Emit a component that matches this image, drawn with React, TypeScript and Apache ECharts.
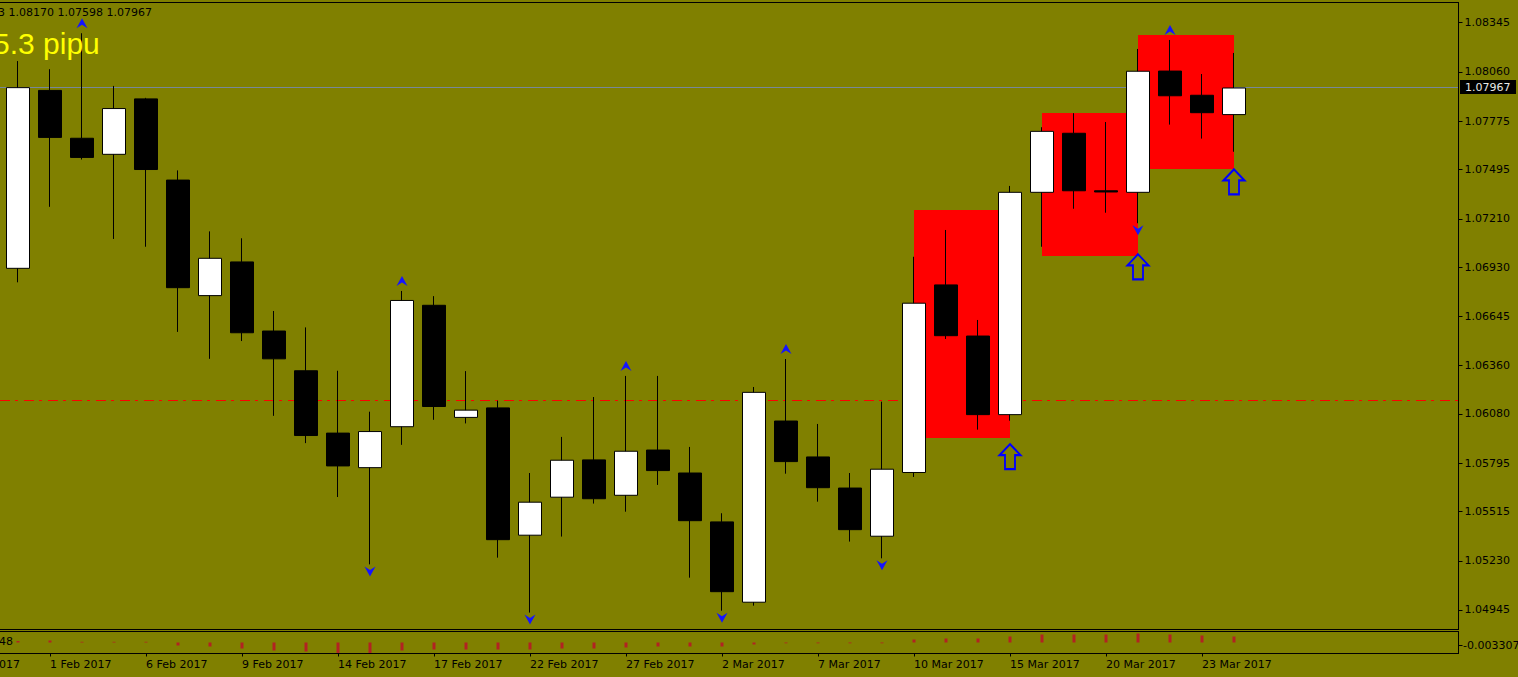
import React, { useEffect, useRef } from 'react';
import * as echarts from 'echarts';

// ---------- data ----------
const categories = [
  '27 Jan 2017', '30 Jan 2017', '31 Jan 2017', '1 Feb 2017', '2 Feb 2017', '3 Feb 2017',
  '6 Feb 2017', '7 Feb 2017', '8 Feb 2017', '9 Feb 2017', '10 Feb 2017', '13 Feb 2017',
  '14 Feb 2017', '15 Feb 2017', '16 Feb 2017', '17 Feb 2017', '20 Feb 2017', '21 Feb 2017',
  '22 Feb 2017', '23 Feb 2017', '24 Feb 2017', '27 Feb 2017', '28 Feb 2017', '1 Mar 2017',
  '2 Mar 2017', '3 Mar 2017', '6 Mar 2017', '7 Mar 2017', '8 Mar 2017', '9 Mar 2017',
  '10 Mar 2017', '13 Mar 2017', '14 Mar 2017', '15 Mar 2017', '16 Mar 2017', '17 Mar 2017',
  '20 Mar 2017', '21 Mar 2017', '22 Mar 2017', '23 Mar 2017', '24 Mar 2017',
];
const FIRST_BAR = 2;
const barDates = categories.slice(FIRST_BAR);

const opens = [
  1.06923, 1.07953, 1.07676, 1.07583, 1.07904, 1.07434, 1.06765, 1.06960, 1.06560, 1.06330,
  1.05969, 1.05769, 1.06006, 1.06709, 1.06060, 1.06115, 1.05378, 1.05598, 1.05814, 1.05609,
  1.05871, 1.05738, 1.05455, 1.04990, 1.06039, 1.05831, 1.05651, 1.05372, 1.05741, 1.06827,
  1.06531, 1.06076, 1.07363, 1.07705, 1.07372, 1.07363, 1.08065, 1.07925, 1.07813,
];
const closes = [
  1.07969, 1.07681, 1.07565, 1.07848, 1.07495, 1.06811, 1.06981, 1.06550, 1.06399, 1.05955,
  1.05779, 1.05978, 1.06737, 1.06123, 1.06102, 1.05352, 1.05569, 1.05812, 1.05589, 1.05864,
  1.05752, 1.05462, 1.05051, 1.06205, 1.05804, 1.05653, 1.05410, 1.05760, 1.06721, 1.06533,
  1.06076, 1.07363, 1.07716, 1.07372, 1.07365, 1.08064, 1.07922, 1.07824, 1.07967,
];
const highs = [
  1.08123, 1.08076, 1.08284, 1.07979, 1.07910, 1.07490, 1.07137, 1.07097, 1.06676, 1.06581,
  1.06330, 1.06093, 1.06792, 1.06762, 1.06328, 1.06157, 1.05738, 1.05947, 1.06178, 1.06300,
  1.06300, 1.05889, 1.05505, 1.06236, 1.06398, 1.06022, 1.05738, 1.06151, 1.06990, 1.07145,
  1.06624, 1.07400, 1.07740, 1.07821, 1.07770, 1.08193, 1.08245, 1.08048, 1.08170,
];
const lows = [
  1.06842, 1.07279, 1.07553, 1.07093, 1.07048, 1.06555, 1.06399, 1.06502, 1.06069, 1.05911,
  1.05599, 1.05209, 1.05901, 1.06046, 1.06025, 1.05248, 1.04930, 1.05370, 1.05561, 1.05514,
  1.05669, 1.05132, 1.04941, 1.04970, 1.05734, 1.05572, 1.05341, 1.05244, 1.05715, 1.06514,
  1.05989, 1.06041, 1.07048, 1.07268, 1.07245, 1.07184, 1.07755, 1.07674, 1.07598,
];
const histogram = [
  0.0015, 0.002, 0.0007, 0.0007, 0.0007, -0.003, -0.004, -0.006, -0.008, -0.009,
  -0.011, -0.011, -0.008, -0.007, -0.007, -0.007, -0.007, -0.006, -0.006, -0.005,
  -0.004, -0.004, -0.004, -0.002, -0.0008, -0.0008, -0.0008, -0.0008, 0.003, 0.004,
  0.004, 0.006, 0.008, 0.008, 0.008, 0.009, 0.008, 0.007, 0.006,
];

const priceTicks = [
  1.08345, 1.0806, 1.07775, 1.07495, 1.0721, 1.0693, 1.06645,
  1.0636, 1.0608, 1.05795, 1.05515, 1.0523, 1.04945,
];
const priceMin = 1.04832;
const priceMax = 1.08462;
const bidPrice = 1.07967;
const dashLevel = 1.06155;

const boxStarts = ['10 Mar 2017', '16 Mar 2017', '21 Mar 2017'];
const boxEnds = ['15 Mar 2017', '21 Mar 2017', '24 Mar 2017'];
const boxTops = [1.07261, 1.07821, 1.08274];
const boxBottoms = [1.05942, 1.06994, 1.07498];

const arrowDates = ['15 Mar 2017', '21 Mar 2017', '24 Mar 2017'];
const arrowPrices = [1.05911, 1.0701, 1.07502];

const fractalUpDates = ['2 Feb 2017', '16 Feb 2017', '27 Feb 2017', '6 Mar 2017', '22 Mar 2017'];
const fractalDownDates = ['15 Feb 2017', '22 Feb 2017', '2 Mar 2017', '9 Mar 2017', '21 Mar 2017'];

const dateLabels = [
  '27 Jan 2017', '1 Feb 2017', '6 Feb 2017', '9 Feb 2017', '14 Feb 2017', '17 Feb 2017', '22 Feb 2017',
  '27 Feb 2017', '2 Mar 2017', '7 Mar 2017', '10 Mar 2017', '15 Mar 2017', '20 Mar 2017', '23 Mar 2017',
];

const headerText = '3 1.08170 1.07598 1.07967';
const pipText = '5.3 pipu';
const indicatorName = '48';
const indicatorLabel = '-0.003307';

// ---------- layout / style ----------
const OLIVE = '#808000';
const FONT = 'DejaVu Sans';
const BAR_PX = 32; // slot width of one daily bar
const PLOT_RIGHT = 1458.5;
const FIRST_CENTER_PX = 18;

export default function App() {
  const ref = useRef<HTMLDivElement>(null);

  useEffect(() => {
    if (!ref.current) return;
    const chart = echarts.init(ref.current, null, { renderer: 'svg' });

    const idx = (d: string) => categories.indexOf(d);
    const bar = (d: string) => barDates.indexOf(d);

    const xMin = FIRST_BAR - FIRST_CENTER_PX / BAR_PX;
    const xMax = xMin + PLOT_RIGHT / BAR_PX;

    const candleData = barDates.map((d, k) => [idx(d), opens[k], closes[k], lows[k], highs[k]]);
    const histData = barDates.map((d, k) => [idx(d), histogram[k]]);
    const boxData = boxStarts.map((s, i) => [idx(s), boxTops[i], idx(boxEnds[i]), boxBottoms[i]]);
    const levelData = [[xMin, bidPrice], [xMin, dashLevel]];
    const upData = fractalUpDates.map((d) => [idx(d), highs[bar(d)]]);
    const downData = fractalDownDates.map((d) => [idx(d), lows[bar(d)]]);
    const arrowData = arrowDates.map((d, i) => [idx(d), arrowPrices[i]]);
    const labelIdx = dateLabels.map(idx).filter((v) => v >= xMin);

    const fractalPath = 'path://M5.5,0 L11,10 L5.5,6.5 L0,10 Z';
    const arrowPath = 'path://M10.5,0 L21,11 L15.5,11 L15.5,25 L5.5,25 L5.5,11 L0,11 Z';

    const mainTop = 2.5, mainH = 627, indTop = 631.5, indH = 22;

    const option: any = {
      animation: false,
      backgroundColor: OLIVE,
      grid: [
        { left: 0, right: 1518 - PLOT_RIGHT, top: mainTop, height: mainH, show: true, backgroundColor: OLIVE, borderWidth: 0 },
        { left: 0, right: 1518 - PLOT_RIGHT, top: indTop, height: indH, show: true, backgroundColor: OLIVE, borderWidth: 0 },
      ],
      xAxis: [
        {
          type: 'value', gridIndex: 0, min: xMin, max: xMax,
          axisLine: { show: true, onZero: false, lineStyle: { color: '#000' } },
          axisTick: { show: false }, axisLabel: { show: false }, splitLine: { show: false },
        },
        {
          type: 'value', gridIndex: 1, min: xMin, max: xMax,
          axisLine: { show: true, onZero: false, lineStyle: { color: '#000' } },
          axisTick: { show: true, length: 3, customValues: labelIdx, lineStyle: { color: '#000' } },
          axisLabel: {
            customValues: labelIdx, formatter: (v: number) => categories[Math.round(v)] ?? '',
            align: 'left', color: '#000', fontFamily: FONT, fontSize: 11, margin: 5,
            showMinLabel: true, showMaxLabel: true,
          },
          splitLine: { show: false },
        },
      ],
      yAxis: [
        {
          type: 'value', gridIndex: 0, position: 'right', min: priceMin, max: priceMax,
          axisLine: { show: true, lineStyle: { color: '#000' } },
          axisTick: { show: true, length: 4, customValues: priceTicks, lineStyle: { color: '#000' } },
          axisLabel: {
            customValues: priceTicks, formatter: (v: number) => v.toFixed(5),
            color: '#000', fontFamily: FONT, fontSize: 11, margin: 6,
          },
          splitLine: { show: false },
        },
        {
          type: 'value', gridIndex: 1, position: 'right', min: -0.011, max: 0.011,
          axisLine: { show: true, lineStyle: { color: '#000' } },
          axisTick: { show: false }, axisLabel: { show: false }, splitLine: { show: false },
        },
      ],
      series: [
        {
          type: 'custom', name: 'levels', xAxisIndex: 0, yAxisIndex: 0, z: 1,
          data: levelData, encode: { x: 0, y: 1 },
          renderItem: (params: any, api: any) => {
            const yRaw = api.coord([api.value(0), api.value(1)])[1];
            const y = Math.floor(yRaw - 0.5) + 0.5;
            const cs = params.coordSys;
            const isBid = params.dataIndex === 0;
            return {
              type: 'line',
              silent: true,
              shape: { x1: cs.x, y1: y, x2: cs.x + cs.width, y2: y },
              style: isBid
                ? { stroke: '#778899', lineWidth: 1, fill: null, opacity: 1 }
                : { stroke: '#ff0000', lineWidth: 1, lineDash: [10, 5, 3, 6], fill: null, opacity: 1 },
            };
          },
        },
        {
          type: 'custom', name: 'boxes', xAxisIndex: 0, yAxisIndex: 0, z: 2,
          data: boxData, encode: { x: [0, 2], y: [1, 3] },
          renderItem: (params: any, api: any) => {
            const p1 = api.coord([api.value(0), api.value(1)]);
            const p2 = api.coord([api.value(2), api.value(3)]);
            return {
              type: 'rect',
              silent: true,
              shape: { x: Math.round(p1[0]), y: Math.round(p1[1]), width: Math.round(p2[0] - p1[0]), height: Math.round(p2[1] - p1[1]) },
              style: { fill: '#ff0000' },
            };
          },
        },
        {
          type: 'candlestick', name: 'EURUSD', xAxisIndex: 0, yAxisIndex: 0, z: 3,
          data: candleData, encode: { x: 0, y: [1, 2, 3, 4] }, barWidth: 23,
          itemStyle: { color: '#ffffff', color0: '#000000', borderColor: '#000000', borderColor0: '#000000', borderWidth: 1 },
        },
        {
          type: 'scatter', name: 'fractal up', xAxisIndex: 0, yAxisIndex: 0, z: 4,
          data: upData, symbol: fractalPath, symbolSize: [11, 10], symbolOffset: [0, -10],
          itemStyle: { color: '#1414ff', opacity: 1 },
        },
        {
          type: 'scatter', name: 'fractal down', xAxisIndex: 0, yAxisIndex: 0, z: 4,
          data: downData, symbol: fractalPath, symbolSize: [11, 10], symbolRotate: 180, symbolOffset: [0, 7],
          itemStyle: { color: '#1414ff', opacity: 1 },
        },
        {
          type: 'scatter', name: 'signal', xAxisIndex: 0, yAxisIndex: 0, z: 4,
          data: arrowData, symbol: arrowPath, symbolSize: [21, 25], symbolOffset: [0, 13.5],
          itemStyle: { color: 'rgba(0,0,0,0)', borderColor: '#0000ff', borderWidth: 2, opacity: 1 },
        },
        {
          type: 'bar', name: 'histogram', xAxisIndex: 1, yAxisIndex: 1,
          data: histData, barWidth: 3, itemStyle: { color: '#b22222' },
        },
      ],
    };

    chart.setOption(option);

    // labels that fall left of the visible plot: place through the axis scale
    const firstLabelX = chart.convertToPixel({ xAxisIndex: 1 }, idx(dateLabels[0])) as number;
    const mainBottom = mainTop + mainH;
    const indBottom = indTop + indH;

    chart.setOption({
      graphic: [
        { type: 'polyline', shape: { points: [[-2, mainTop], [PLOT_RIGHT, mainTop], [PLOT_RIGHT, mainBottom], [-2, mainBottom]] }, style: { stroke: '#000', lineWidth: 1, fill: null }, z: 9, silent: true },
        { type: 'polyline', shape: { points: [[-2, indTop], [PLOT_RIGHT, indTop], [PLOT_RIGHT, indBottom], [-2, indBottom]] }, style: { stroke: '#000', lineWidth: 1, fill: null }, z: 9, silent: true },
        { type: 'text', x: firstLabelX, y: indBottom + 5, style: { text: dateLabels[0], fill: '#000', font: `11px "${FONT}"`, verticalAlign: 'top' }, z: 10 },
        { type: 'text', x: -2, y: 12.5, style: { text: headerText, fill: '#000', font: `11px "${FONT}"`, verticalAlign: 'middle' }, z: 10 },
        { type: 'text', x: -7, y: 43, style: { text: pipText, fill: '#ffff00', font: '30px "Liberation Sans"', verticalAlign: 'middle' }, z: 10 },
        { type: 'text', x: -1, y: 641, style: { text: indicatorName, fill: '#000', font: `11px "${FONT}"`, verticalAlign: 'middle' }, z: 10 },
        { type: 'line', shape: { x1: PLOT_RIGHT, y1: 645.5, x2: PLOT_RIGHT + 4, y2: 645.5 }, style: { stroke: '#000', lineWidth: 1 }, z: 10 },
        { type: 'text', x: 1463, y: 645, style: { text: indicatorLabel, fill: '#000', font: `11px "${FONT}"`, verticalAlign: 'middle' }, z: 10 },
        { type: 'rect', shape: { x: 1460, y: 80, width: 56, height: 14 }, style: { fill: '#000' }, z: 10 },
        { type: 'text', x: 1465, y: 87, style: { text: bidPrice.toFixed(5), fill: '#e8e8e8', font: `11px "${FONT}"`, verticalAlign: 'middle' }, z: 11 },
      ],
    });

    return () => chart.dispose();
  }, []);

  return <div ref={ref} style={{ position: 'absolute', left: 0, top: 0, width: 1518, height: 677 }} />;
}
